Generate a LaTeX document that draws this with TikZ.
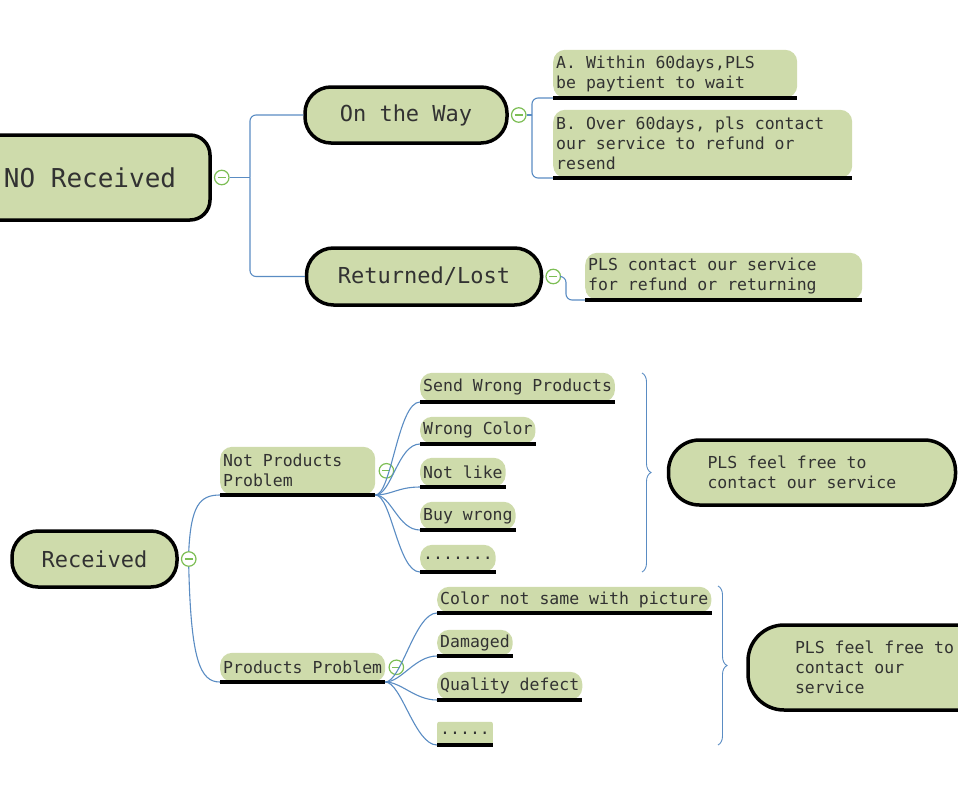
\documentclass[tikz,border=0pt]{standalone}
\usepackage{fontspec}
\setmainfont{DejaVu Sans Mono}
\usetikzlibrary{decorations.pathreplacing,calc}
\definecolor{leafc}{RGB}{206,219,171}
\definecolor{linkc}{RGB}{90,140,195}
\definecolor{togc}{RGB}{125,190,85}
\definecolor{txtc}{RGB}{50,50,50}
\newcommand\leaffnt{\fontsize{16.5}{20}\selectfont}
\newcommand\bigfnt{\fontsize{22}{26}\selectfont}
\newcommand\fixspaces{\spaceskip=0.602em\relax\xspaceskip=0.602em\relax}
\tikzset{
  bigbox/.style={draw=black, line width=3.5pt, fill=leafc, rounded corners=#1, text=txtc, inner sep=0pt, execute at begin node=\fixspaces},
  leafbox/.style={fill=leafc, rounded corners=12pt, text=txtc, inner xsep=3pt, inner ysep=0pt, align=left, anchor=south west, font=\leaffnt, execute at begin node=\fixspaces},
  uline/.style={line width=3.5pt, draw=black},
  link/.style={draw=linkc, line width=1.1pt},
  togbtn/.style={circle, draw=togc, line width=1.2pt, fill=white, minimum size=14.5pt, inner sep=0pt,
     path picture={\draw[togc, line width=1.2pt] ([xshift=-4pt]path picture bounding box.center) -- ([xshift=4pt]path picture bounding box.center);}},
  bracestyle/.style={draw=linkc, line width=0.9pt, decorate, decoration={brace, amplitude=9pt}},
}
\begin{document}
\begin{tikzpicture}[x=1pt,y=-1pt]
\useasboundingbox (0,0) rectangle (958,803);
% ---------- upper part ----------
\node[bigbox=20pt, minimum width=240pt, minimum height=85pt, font=\fontsize{26}{30}\selectfont] (nr) at (90,177.5) {NO Received};
\node[togbtn] (c1) at ($(nr.east)+(10,0)$) {};
\node[bigbox=26pt, minimum width=202pt, minimum height=56pt, font=\bigfnt] (otw) at (406,115) {On the Way};
\node[togbtn] (c2) at ($(otw.east)+(10,0)$) {};
\node[bigbox=27pt, minimum width=235pt, minimum height=57pt, font=\bigfnt] (rl) at (424,276.5) {Returned/Lost};
\node[togbtn] (c3) at ($(rl.east)+(10,0)$) {};

\node[leafbox, text width=238pt, minimum height=48pt] (la) at (553,98) {A. Within 60days,PLS\\be paytient to wait};
\node[leafbox, text width=293pt, minimum height=68pt] (lb) at (553,178) {B. Over 60days, pls contact\\our service to refund or\\resend};
\node[leafbox, text width=271pt, minimum height=47pt] (lc) at (585,300) {PLS contact our service\\for refund or returning};

\coordinate (j1) at (250,177.5);
\coordinate (j2) at (532,115);
\coordinate (j3) at (566,276.5);
\draw[link] (c1.east) -- (j1);
\draw[link, rounded corners=6pt] (j1) |- (otw.west);
\draw[link, rounded corners=6pt] (j1) |- (rl.west);
\draw[link] (c2.east) -- (j2);
\draw[link, rounded corners=6pt] (j2) |- (la.south west);
\draw[link, rounded corners=6pt] (j2) |- (lb.south west);
\draw[link, rounded corners=6pt] (c3.east) -- (j3) |- (lc.south west);

% ---------- lower part ----------
\node[bigbox=26pt, minimum width=165pt, minimum height=56pt, font=\bigfnt] (rc) at (94.5,559) {Received};
\node[togbtn] (c4) at ($(rc.east)+(10,0)$) {};

\node[leafbox, text width=149pt, minimum height=48pt] (npp) at (220,495) {Not Products\\Problem};
\node[togbtn] (c5) at ($(npp.east)+(11,0)$) {};
\node[leafbox, minimum height=29pt] (s1) at (420,402) {Send Wrong Products};
\node[leafbox, minimum height=27pt] (s2) at (420,444) {Wrong Color};
\node[leafbox, minimum height=29pt] (s3) at (420,487) {Not like};
\node[leafbox, minimum height=28pt] (s4) at (420,530) {Buy wrong};
\node[leafbox, minimum height=27pt] (s5) at (420,572) {.......};

\node[leafbox, minimum height=29pt] (pp) at (220,682) {Products Problem};
\node[togbtn] (c6) at ($(pp.east)+(11,0)$) {};
\node[leafbox, minimum height=26pt] (t1) at (437,613) {Color not same with picture};
\node[leafbox, minimum height=26pt] (t2) at (437,656) {Damaged};
\node[leafbox, minimum height=28pt] (t3) at (437,700) {Quality defect};
\node[leafbox, minimum height=23pt, rounded corners=2pt] (t4) at (437,745) {.....};

\node[bigbox=31pt, minimum height=65pt, inner xsep=39pt, text width=209pt, align=left, font=\leaffnt] (f1) at (812,472.5) {PLS feel free to\\contact our service};
\node[bigbox=36pt, minimum height=85pt, inner xsep=47pt, text width=200pt, align=left, font=\leaffnt] (f2) at (895,667.5) {PLS feel free to\\contact our\\service};

\draw[link] (c4.north) .. controls (191,505) and (200,495) .. (npp.south west);
\draw[link] (c4.south) .. controls (191,660) and (200,682) .. (pp.south west);
\foreach \n in {s1,s2,s3,s4,s5}
  \draw[link] (npp.south east) .. controls +(16,0) and +(-22,0) .. (\n.south west);
\foreach \n in {t1,t2,t3,t4}
  \draw[link] (pp.south east) .. controls +(16,0) and +(-22,0) .. (\n.south west);

\coordinate (b1t) at (642,373);
\coordinate (b1b) at (642,572);
\coordinate (b2t) at (718,586);
\coordinate (b2b) at (718,745);
\draw[bracestyle] (b1t) -- (b1b);
\draw[bracestyle] (b2t) -- (b2b);

% underlines
\foreach \n in {la,lb,lc,npp,s1,s2,s3,s4,s5,pp,t1,t2,t3,t4}
  \draw[uline] (\n.south west) -- (\n.south east);
\end{tikzpicture}
\end{document}
